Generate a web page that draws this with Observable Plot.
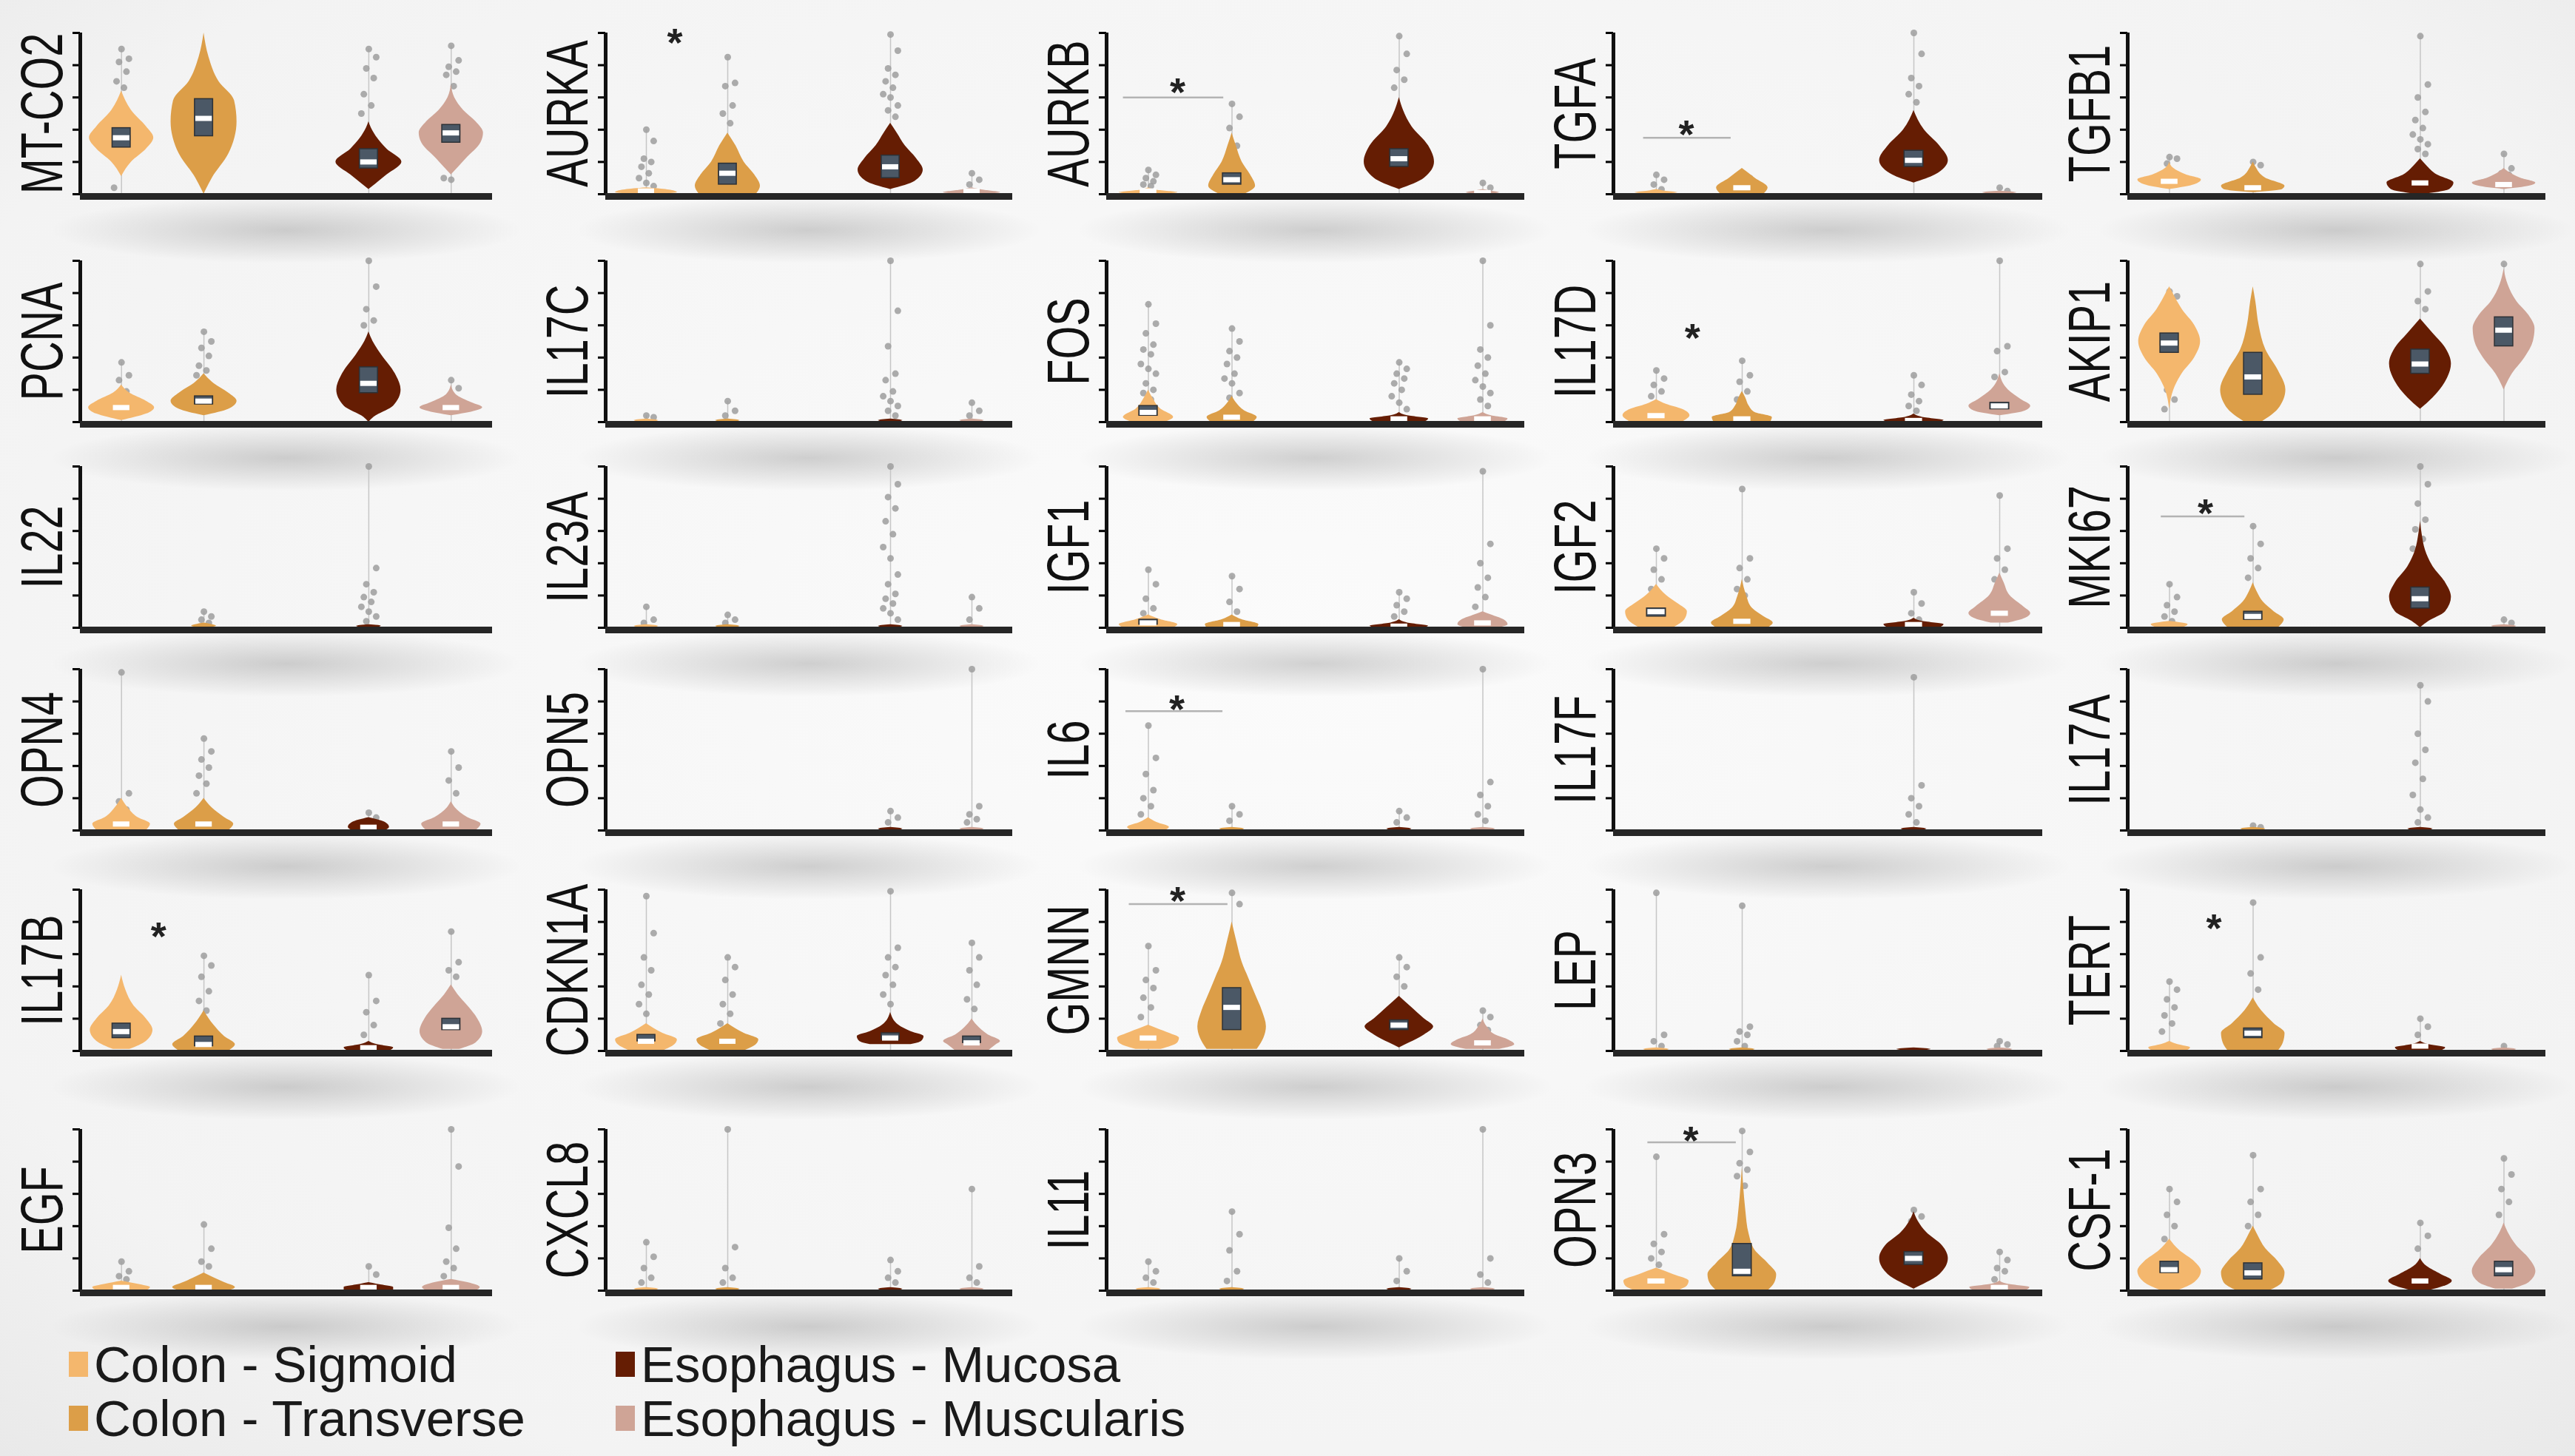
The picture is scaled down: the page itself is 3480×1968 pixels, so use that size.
<!DOCTYPE html>
<html>
<head>
<meta charset="utf-8">
<script src="https://cdn.jsdelivr.net/npm/d3@7"></script>
<script src="https://cdn.jsdelivr.net/npm/@observablehq/plot@0.6"></script>
<style>
  html, body { margin: 0; padding: 0; background: #f4f4f4; }
  #stage { position: relative; width: 3480px; height: 1968px; overflow: hidden;
           font-family: "Liberation Sans", Arial, sans-serif;
           background: radial-gradient(ellipse at 50% 45%, #fbfbfb 0%, #f3f3f3 80%, #e9e9e9 100%); }
  .panel { position: absolute; }
  .shadow { position: absolute; background: radial-gradient(ellipse closest-side, rgba(0,0,0,0.17), rgba(0,0,0,0)); }
  g[aria-label="y-axis tick"] { stroke-width: 3px; }
  .legend-item { position: absolute; display: flex; align-items: center; height: 80px;
                 font-size: 69px; color: #1a1a1a; white-space: nowrap; }
  .legend-item .sw { width: 26px; height: 34px; margin-right: 8px; }
</style>
</head>
<body>
<div id="stage"></div>
<script>
// ---------------- data ----------------
const tissues = ["Colon - Sigmoid", "Colon - Transverse", "Esophagus - Mucosa", "Esophagus - Muscularis"];
const slot = [0, 1, 3, 4];            // category slot on the x axis (slot 2 is empty)
const palette = ["#f4b76d", "#dc9e48", "#651d03", "#cfa496"];

const genes = ["MT-CO2", "AURKA", "AURKB", "TGFA", "TGFB1",
               "PCNA", "IL17C", "FOS", "IL17D", "AKIP1",
               "IL22", "IL23A", "IGF1", "IGF2", "MKI67",
               "OPN4", "OPN5", "IL6", "IL17F", "IL17A",
               "IL17B", "CDKN1A", "GMNN", "LEP", "TERT",
               "EGF", "CXCL8", "IL11", "OPN3", "CSF-1"];

// violin outline knots per gene & tissue: [value, half-width, value, half-width, ...]
const tiny = [0, 0.1, 0.01, 0.15, 0.02, 0];
const shapes = [
  [[0.11,0, 0.2,0.12, 0.28,0.3, 0.35,0.39, 0.42,0.3, 0.52,0.12, 0.64,0],
   [0,0, 0.1,0.1, 0.25,0.3, 0.45,0.4, 0.58,0.37, 0.7,0.18, 0.85,0.06, 1.0,0],
   [0.03,0, 0.12,0.22, 0.2,0.4, 0.28,0.22, 0.41,0.03, 0.45,0],
   [0.12,0, 0.22,0.18, 0.32,0.36, 0.38,0.39, 0.45,0.3, 0.52,0.15, 0.6,0.04, 0.68,0]],
  [[0,0.2, 0.01,0.38, 0.025,0.3, 0.04,0],
   [0,0.35, 0.05,0.4, 0.12,0.33, 0.2,0.2, 0.3,0.1, 0.38,0],
   [0.03,0, 0.08,0.3, 0.15,0.4, 0.22,0.32, 0.3,0.18, 0.38,0.08, 0.44,0],
   [0,0.2, 0.01,0.35, 0.025,0.15, 0.04,0]],
  [[0,0.2, 0.01,0.35, 0.025,0.1, 0.04,0],
   [0,0.15, 0.05,0.28, 0.12,0.22, 0.2,0.12, 0.3,0.05, 0.38,0],
   [0.03,0, 0.1,0.3, 0.2,0.42, 0.3,0.35, 0.42,0.15, 0.52,0.05, 0.6,0],
   [0,0.1, 0.01,0.2, 0.02,0.1, 0.03,0]],
  [[0,0.1, 0.01,0.25, 0.02,0.1, 0.03,0],
   [0,0.25, 0.04,0.3, 0.1,0.15, 0.16,0],
   [0.07,0, 0.12,0.25, 0.21,0.4, 0.3,0.3, 0.4,0.12, 0.52,0],
   [0,0.1, 0.01,0.2, 0.02,0]],
  [[0.03,0, 0.06,0.3, 0.09,0.38, 0.12,0.2, 0.16,0.05, 0.2,0],
   [0.01,0, 0.03,0.35, 0.05,0.38, 0.1,0.15, 0.17,0.03, 0.2,0],
   [0,0.05, 0.03,0.35, 0.07,0.4, 0.12,0.2, 0.18,0.07, 0.22,0],
   [0.03,0, 0.05,0.3, 0.07,0.38, 0.1,0.2, 0.14,0.05, 0.16,0]],
  [[0.01,0, 0.05,0.3, 0.09,0.4, 0.13,0.3, 0.18,0.1, 0.23,0],
   [0.04,0, 0.08,0.3, 0.13,0.4, 0.18,0.3, 0.24,0.12, 0.3,0],
   [0,0, 0.03,0.06, 0.1,0.3, 0.2,0.39, 0.3,0.32, 0.42,0.15, 0.5,0.05, 0.56,0],
   [0.04,0, 0.07,0.3, 0.09,0.38, 0.12,0.25, 0.17,0.06, 0.23,0]],
  [tiny, tiny, tiny, tiny],
  [[0,0.2, 0.03,0.3, 0.08,0.15, 0.15,0.05, 0.2,0],
   [0,0.25, 0.03,0.3, 0.07,0.15, 0.12,0.05, 0.16,0],
   [0,0.3, 0.02,0.35, 0.04,0.1, 0.06,0],
   [0,0.25, 0.02,0.3, 0.04,0.1, 0.06,0]],
  [[0,0.3, 0.04,0.39, 0.08,0.3, 0.11,0.12, 0.14,0],
   [0,0.33, 0.03,0.35, 0.06,0.15, 0.1,0.08, 0.15,0.04, 0.19,0],
   [0,0.3, 0.01,0.35, 0.03,0.1, 0.05,0],
   [0.04,0, 0.07,0.3, 0.1,0.36, 0.14,0.25, 0.2,0.1, 0.3,0]],
  [[0.08,0, 0.2,0.05, 0.3,0.15, 0.4,0.3, 0.5,0.37, 0.6,0.3, 0.7,0.15, 0.8,0.04, 0.84,0],
   [0,0.1, 0.08,0.3, 0.2,0.39, 0.32,0.3, 0.45,0.15, 0.6,0.07, 0.75,0.03, 0.84,0],
   [0.08,0, 0.15,0.15, 0.25,0.3, 0.36,0.37, 0.46,0.3, 0.55,0.15, 0.64,0],
   [0.2,0, 0.3,0.1, 0.4,0.25, 0.5,0.35, 0.58,0.37, 0.66,0.3, 0.75,0.15, 0.85,0.05, 0.95,0]],
  [[], [0,0.08, 0.01,0.15, 0.03,0], tiny, []],
  [tiny, tiny, tiny, tiny],
  [[0,0.3, 0.02,0.35, 0.05,0.15, 0.08,0],
   [0,0.3, 0.02,0.32, 0.05,0.12, 0.08,0],
   [0,0.3, 0.01,0.35, 0.03,0.1, 0.05,0],
   [0,0.2, 0.02,0.3, 0.05,0.25, 0.08,0.1, 0.1,0]],
  [[0,0.2, 0.05,0.33, 0.1,0.36, 0.15,0.25, 0.2,0.12, 0.27,0],
   [0,0.3, 0.03,0.36, 0.07,0.25, 0.12,0.12, 0.2,0.05, 0.3,0],
   [0,0.3, 0.02,0.35, 0.04,0.1, 0.06,0],
   [0.03,0.1, 0.06,0.3, 0.09,0.36, 0.13,0.28, 0.2,0.12, 0.28,0.05, 0.34,0]],
  [[0,0.15, 0.02,0.22, 0.04,0],
   [0,0.3, 0.05,0.37, 0.1,0.25, 0.16,0.12, 0.22,0.05, 0.28,0],
   [0,0, 0.04,0.1, 0.1,0.3, 0.19,0.37, 0.28,0.3, 0.38,0.15, 0.48,0.06, 0.58,0.02, 0.66,0],
   tiny],
  [[0,0.3, 0.04,0.35, 0.08,0.2, 0.14,0.08, 0.2,0],
   [0,0.3, 0.04,0.36, 0.08,0.25, 0.14,0.1, 0.2,0],
   [0,0.2, 0.02,0.25, 0.05,0.2, 0.08,0],
   [0,0.3, 0.04,0.36, 0.08,0.2, 0.14,0.05, 0.18,0]],
  [[], [], tiny, tiny],
  [[0,0.2, 0.02,0.25, 0.05,0.1, 0.08,0], tiny, tiny, tiny],
  [[], [], tiny, []],
  [[], tiny, tiny, []],
  [[0.01,0.1, 0.06,0.3, 0.13,0.38, 0.2,0.3, 0.28,0.15, 0.38,0.05, 0.47,0],
   [0,0.3, 0.04,0.38, 0.09,0.25, 0.16,0.12, 0.25,0],
   [0,0.25, 0.02,0.3, 0.04,0.1, 0.06,0],
   [0.01,0.1, 0.05,0.3, 0.12,0.38, 0.2,0.32, 0.28,0.2, 0.35,0.08, 0.41,0]],
  [[0,0.2, 0.04,0.35, 0.07,0.38, 0.11,0.2, 0.17,0],
   [0,0.2, 0.04,0.35, 0.07,0.38, 0.11,0.2, 0.17,0],
   [0.04,0.25, 0.06,0.38, 0.09,0.41, 0.12,0.25, 0.16,0.1, 0.24,0],
   [0,0.2, 0.04,0.3, 0.06,0.35, 0.1,0.2, 0.16,0.06, 0.2,0]],
  [[0.01,0.15, 0.05,0.35, 0.08,0.37, 0.11,0.25, 0.14,0.1, 0.16,0],
   [0.01,0.3, 0.08,0.38, 0.15,0.41, 0.25,0.36, 0.35,0.28, 0.45,0.2, 0.55,0.12, 0.67,0.06, 0.8,0],
   [0.02,0, 0.05,0.12, 0.1,0.3, 0.15,0.41, 0.2,0.3, 0.27,0.15, 0.34,0],
   [0.01,0.2, 0.04,0.38, 0.07,0.3, 0.1,0.15, 0.15,0.05, 0.2,0]],
  [tiny, tiny, [0,0.1, 0.01,0.2, 0.02,0], tiny],
  [[0,0.2, 0.02,0.25, 0.04,0.1, 0.06,0],
   [0,0.3, 0.05,0.36, 0.11,0.38, 0.17,0.25, 0.25,0.1, 0.33,0],
   [0,0.25, 0.02,0.3, 0.04,0.1, 0.06,0],
   tiny],
  [[0,0.3, 0.02,0.35, 0.04,0.2, 0.06,0],
   [0,0.3, 0.02,0.38, 0.05,0.25, 0.08,0.12, 0.11,0],
   [0,0.3, 0.02,0.3, 0.04,0.1, 0.05,0],
   [0,0.3, 0.02,0.35, 0.05,0.2, 0.07,0]],
  [tiny, tiny, tiny, tiny],
  [tiny, tiny, tiny, tiny],
  [[0,0.25, 0.03,0.36, 0.06,0.38, 0.1,0.2, 0.14,0],
   [0,0.3, 0.05,0.38, 0.1,0.4, 0.17,0.3, 0.25,0.15, 0.35,0.08, 0.5,0.04, 0.65,0.015, 0.76,0],
   [0.01,0, 0.05,0.15, 0.1,0.3, 0.2,0.4, 0.28,0.33, 0.36,0.15, 0.43,0.05, 0.49,0],
   [0,0.3, 0.02,0.35, 0.04,0.1, 0.06,0]],
  [[0,0.1, 0.05,0.3, 0.12,0.38, 0.18,0.3, 0.25,0.12, 0.32,0],
   [0,0.2, 0.05,0.35, 0.11,0.38, 0.18,0.3, 0.26,0.15, 0.35,0.05, 0.4,0],
   [0,0.1, 0.03,0.3, 0.06,0.38, 0.1,0.25, 0.15,0.08, 0.2,0],
   [0.01,0.1, 0.05,0.3, 0.12,0.38, 0.2,0.3, 0.28,0.15, 0.36,0.05, 0.42,0]]
];

// box summaries: [q1, median, q3] or [median] only, null = none
const boxes = [
  [[0.29,0.35,0.41], [0.36,0.47,0.59], [0.16,0.2,0.28], [0.32,0.38,0.43]],
  [[0.02], [0.06,0.13,0.19], [0.1,0.17,0.24], [0.02]],
  [[0.02], [0.06,0.09,0.13], [0.17,0.22,0.28], [0.01]],
  [null, [0.04], [0.17,0.21,0.27], null],
  [[0.08], [0.04], [0.07], [0.06]],
  [[0.09], [0.11,0.13,0.16], [0.18,0.24,0.34], [0.09]],
  [null, null, null, null],
  [[0.04,0.06,0.1], [0.03], [0.02], [0.02]],
  [[0.04], [0.02], [0.01], [0.08,0.1,0.12]],
  [[0.43,0.49,0.55], [0.17,0.28,0.43], [0.3,0.36,0.45], [0.47,0.57,0.65]],
  [null, null, null, null],
  [null, null, null, null],
  [[0.02,0.03,0.05], [0.02], [0.01], [0.03]],
  [[0.07,0.1,0.12], [0.04], [0.02], [0.09]],
  [null, [0.05,0.07,0.1], [0.12,0.18,0.25], null],
  [[0.04], [0.04], [0.02], [0.04]],
  [null, null, null, null],
  [null, null, null, null],
  [null, null, null, null],
  [null, null, null, null],
  [[0.08,0.12,0.17], [0.03,0.04,0.09], [0.02], [0.13,0.15,0.2]],
  [[0.06,0.06,0.1], [0.06], [0.07,0.08,0.11], [0.05,0.05,0.09]],
  [[0.08], [0.13,0.27,0.39], [0.13,0.16,0.19], [0.05]],
  [null, null, null, null],
  [null, [0.08,0.11,0.14], [0.03], null],
  [[0.02], [0.02], [0.02], [0.02]],
  [null, null, null, null],
  [null, null, null, null],
  [[0.06], [0.09,0.12,0.29], [0.16,0.2,0.24], [0.02]],
  [[0.11,0.13,0.18], [0.07,0.11,0.17], [0.06], [0.09,0.13,0.18]]
];

// individual outlying samples (grey points) per gene & tissue
const dots = [
  [[0.9,0.84,0.82,0.76,0.7,0.66,0.04], [], [0.9,0.85,0.78,0.72,0.62,0.55,0.5], [0.92,0.83,0.79,0.76,0.74,0.67,0.1,0.09]],
  [[0.4,0.33,0.22,0.2,0.17,0.13,0.1,0.07,0.05], [0.85,0.69,0.67,0.55,0.5,0.44], [0.99,0.89,0.78,0.74,0.7,0.66,0.62,0.6,0.55,0.52,0.48], [0.13,0.09,0.06]],
  [[0.15,0.12,0.1,0.08,0.06,0.05], [0.56,0.48,0.41,0.3], [0.98,0.87,0.77,0.71,0.66], [0.07,0.04]],
  [[0.12,0.09,0.06,0.03], [0.12,0.1], [1.0,0.87,0.72,0.67,0.62,0.57], [0.04,0.02]],
  [[0.23,0.22,0.19], [0.2,0.18], [0.98,0.68,0.6,0.51,0.46,0.41,0.37,0.34,0.31,0.28,0.25], [0.25,0.16,0.13,0.12]],
  [[0.37,0.29,0.26,0.19], [0.56,0.5,0.46,0.41,0.35,0.32,0.29], [1.0,0.84,0.7,0.63,0.6], [0.26,0.21]],
  [[0.04,0.03], [0.13,0.07,0.04], [1.0,0.69,0.47,0.3,0.26,0.19,0.16,0.13,0.1,0.07,0.04], [0.12,0.07,0.04]],
  [[0.73,0.61,0.55,0.48,0.45,0.42,0.36,0.33,0.3,0.24,0.2,0.18,0.14], [0.58,0.5,0.44,0.4,0.36,0.3,0.27,0.24,0.18,0.15], [0.37,0.33,0.3,0.27,0.24,0.2,0.16,0.12,0.08], [1.0,0.6,0.45,0.4,0.35,0.3,0.26,0.22,0.18,0.14,0.1]],
  [[0.32,0.27,0.23,0.19,0.16], [0.38,0.29,0.25,0.19,0.14], [0.29,0.23,0.17,0.13,0.1,0.07], [1.0,0.47,0.44,0.31,0.28]],
  [[0.81,0.78,0.2,0.14,0.08], [], [0.98,0.81,0.75,0.7], [0.98]],
  [[], [0.1,0.07,0.05,0.03], [1.0,0.37,0.27,0.22,0.19,0.16,0.13,0.1,0.07,0.04], []],
  [[0.13,0.05,0.03], [0.08,0.05,0.03], [1.0,0.89,0.81,0.74,0.66,0.58,0.5,0.43,0.33,0.27,0.21,0.18,0.15,0.12,0.09,0.05], [0.19,0.12,0.05]],
  [[0.36,0.27,0.18,0.12,0.09], [0.32,0.24,0.16,0.1], [0.22,0.18,0.14,0.1,0.07], [0.97,0.52,0.4,0.31,0.25,0.19,0.13]],
  [[0.49,0.43,0.36,0.3,0.24], [0.86,0.43,0.37,0.3,0.24,0.2], [0.22,0.15,0.09,0.05], [0.82,0.49,0.43,0.36,0.3]],
  [[0.27,0.19,0.14,0.1,0.07,0.04], [0.63,0.52,0.43,0.37,0.31], [1.0,0.89,0.77,0.67,0.61,0.55,0.49], [0.05,0.03]],
  [[0.98,0.23,0.18,0.13], [0.57,0.49,0.44,0.39,0.34,0.29,0.23], [0.11,0.08], [0.49,0.39,0.31,0.23]],
  [[], [], [0.12,0.08,0.05], [1.0,0.15,0.1,0.07,0.05]],
  [[0.65,0.45,0.35,0.25,0.2,0.15,0.1], [0.15,0.1,0.06], [0.12,0.08,0.05], [1.0,0.3,0.22,0.15,0.1,0.06]],
  [[], [], [0.95,0.28,0.2,0.15,0.1,0.05], []],
  [[], [0.03,0.02], [0.9,0.8,0.6,0.5,0.42,0.32,0.22,0.13,0.08,0.05], []],
  [[], [0.59,0.53,0.46,0.37,0.31,0.25], [0.47,0.31,0.24,0.16,0.1], [0.74,0.55,0.5,0.46]],
  [[0.96,0.73,0.58,0.5,0.41,0.35,0.29,0.23], [0.58,0.52,0.44,0.35,0.29,0.23,0.17], [0.99,0.64,0.58,0.52,0.47,0.41,0.35,0.29], [0.67,0.58,0.5,0.41,0.32,0.26]],
  [[0.65,0.5,0.44,0.39,0.33,0.27,0.21], [0.98,0.91], [0.58,0.52,0.46,0.4], [0.25,0.21,0.16,0.13]],
  [[0.98,0.1,0.06,0.03], [0.9,0.15,0.12,0.1,0.06,0.03], [], [0.06,0.04,0.03]],
  [[0.43,0.38,0.32,0.27,0.22,0.17,0.12], [0.92,0.58,0.48,0.38], [0.2,0.15,0.1], [0.03]],
  [[0.18,0.12,0.09,0.07], [0.41,0.26,0.18,0.15], [0.15,0.1], [1.0,0.77,0.39,0.26,0.18,0.14,0.09]],
  [[0.3,0.21,0.14,0.08,0.05], [1.0,0.27,0.14,0.08,0.05], [0.19,0.12,0.08,0.05], [0.63,0.15,0.08,0.05]],
  [[0.18,0.12,0.08,0.05], [0.49,0.35,0.25,0.12,0.06], [0.2,0.12,0.06], [1.0,0.2,0.1,0.05]],
  [[0.83,0.35,0.29,0.24,0.2,0.16], [0.99,0.86,0.79,0.75,0.71,0.65], [0.5,0.46,0.43], [0.24,0.19,0.14,0.12,0.07]],
  [[0.63,0.55,0.47,0.4,0.32], [0.84,0.63,0.55,0.47,0.4], [0.42,0.34,0.26], [0.82,0.72,0.63,0.55,0.47]]
];

// significance marks: [gene index, star x, star y, bracket y (or null), bracket x1, bracket x2]
const significance = [
  [1, 0.35, 1.0, null],
  [2, 0.35, 0.69, 0.6, -0.3, 0.9],
  [3, 0.35, 0.43, 0.35, -0.15, 0.87],
  [8, 0.42, 0.58, null],
  [14, 0.43, 0.77, 0.69, -0.1, 0.9],
  [17, 0.34, 0.81, 0.74, -0.27, 0.89],
  [20, 0.45, 0.77, null],
  [22, 0.35, 0.99, 0.91, -0.23, 0.95],
  [24, 0.53, 0.82, null],
  [28, 0.4, 0.99, 0.92, -0.1, 0.93]
];

// ---------------- layout ----------------
const colAxis = [108, 818, 1495, 2180, 2875];
const colW = [557, 550, 565, 580, 565];
const rowBottom = [262, 570, 848, 1122, 1420, 1744];
const H = 218, ML = 120, MR = 12, MT = 34, MB = 14;

const stage = document.getElementById("stage");
const jit = i => (((i * 3 + 3) % 7) - 3) * 0.03;

genes.forEach((gene, g) => {
  const r = Math.floor(g / 5), c = g % 5;
  const W = colW[c];

  const vrows = [], drows = [], brows = [], trows = [];
  tissues.forEach((name, k) => {
    const pos = slot[k];
    const kn = shapes[g][k];
    for (let i = 0; i < kn.length; i += 2) vrows.push({tissue: name, pos, y: kn[i], w: kn[i + 1]});
    dots[g][k].forEach((v, i) => drows.push({tissue: name, pos, y: v, i}));
    if (dots[g][k].length) trows.push({pos, top: d3.max(dots[g][k])});
    const b = boxes[g][k];
    if (b) {
      if (b.length === 3) brows.push({pos, q1: b[0], med: b[1], q3: b[2]});
      else brows.push({pos, q1: b[0], med: b[0], q3: b[0]});
    }
  });
  const sig = significance.filter(s => s[0] === g);
  const brackets = sig.filter(s => s[3] != null);

  const shadow = document.createElement("div");
  shadow.className = "shadow";
  Object.assign(shadow.style, {left: (colAxis[c] - 40) + "px", top: (rowBottom[r] + 4) + "px",
                               width: (W + 80) + "px", height: "90px"});
  stage.appendChild(shadow);

  const chart = Plot.plot({
    width: ML + W + MR,
    height: MT + H + MB,
    marginLeft: ML, marginRight: MR, marginTop: MT, marginBottom: MB,
    style: {background: "transparent", overflow: "visible", fontFamily: "Liberation Sans, Arial, sans-serif"},
    x: {domain: [-0.5, 4.5], axis: null},
    y: {domain: [0, 1], ticks: 5, tickSize: 10, tickFormat: () => "", label: null},
    color: {domain: tissues, range: palette},
    marks: [
      Plot.ruleX(trows, {x: "pos", y1: 0, y2: "top", stroke: "#c6c6c6", strokeWidth: 1.5}),
      Plot.dot(drows, {x: d => d.pos + jit(d.i), y: "y", r: 4.5, fill: "#9d9d9d", fillOpacity: 0.85, stroke: null}),
      Plot.areaX(vrows, {y: "y", x1: d => d.pos - d.w, x2: d => d.pos + d.w, z: "tissue", fill: "tissue", curve: "monotone-y"}),
      Plot.rect(brows.filter(b => b.q3 > b.q1), {x1: d => d.pos - 0.11, x2: d => d.pos + 0.11, y1: "q1", y2: "q3",
                fill: "#4b5866", stroke: "#2d3136", strokeWidth: 1.5}),
      Plot.ruleY(brows, {y: "med", x1: d => d.pos - 0.1, x2: d => d.pos + 0.1, stroke: "white", strokeWidth: 7}),
      Plot.ruleX([-0.5], {y1: 0, y2: 1, stroke: "#111", strokeWidth: 5}),
      Plot.ruleY([0], {x1: -0.5, x2: 4.5, stroke: "#262626", strokeWidth: 9, dy: 3}),
      Plot.ruleY(brackets, {y: d => d[3], x1: d => d[4], x2: d => d[5], stroke: "#b3b3b3", strokeWidth: 2.5}),
      Plot.text(sig, {x: d => d[1], y: d => d[2], text: () => "*", fontSize: 54, fontWeight: "bold", fill: "#222", dy: 14}),
      Plot.text([gene], {frameAnchor: "left", textAnchor: "middle", lineAnchor: "middle", rotate: -90, dx: -50, fontSize: 80, fill: "#111"})
    ]
  });

  // condensed gene label, as in the reference
  chart.querySelectorAll("text").forEach(t => {
    if (t.textContent === gene) {
      const tr = t.getAttribute("transform") || "";
      t.setAttribute("transform", tr + " scale(0.72,1)");
    }
  });

  const wrap = document.createElement("div");
  wrap.className = "panel";
  wrap.style.left = (colAxis[c] - ML) + "px";
  wrap.style.top = (rowBottom[r] - H - MT) + "px";
  wrap.appendChild(chart);
  stage.appendChild(wrap);
});

// ---------------- legend ----------------
const legendLeft = [93, 832], legendTop = [1804, 1877];
tissues.forEach((name, k) => {
  const item = document.createElement("div");
  item.className = "legend-item";
  item.style.left = legendLeft[Math.floor(k / 2)] + "px";
  item.style.top = legendTop[k % 2] + "px";
  const sw = document.createElement("span");
  sw.className = "sw";
  sw.style.background = palette[k];
  const tx = document.createElement("span");
  tx.textContent = name;
  item.appendChild(sw);
  item.appendChild(tx);
  stage.appendChild(item);
});
</script>
</body>
</html>
